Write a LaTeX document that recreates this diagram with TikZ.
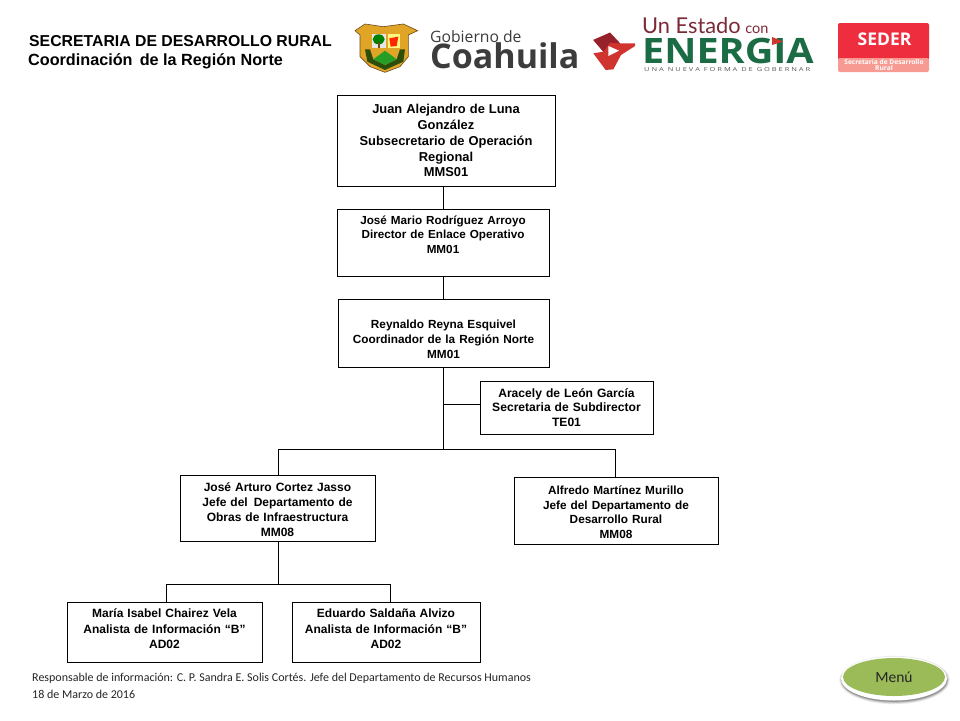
\documentclass[tikz,border=0pt]{standalone}
\usepackage{fontspec}
\setmainfont{Liberation Sans}
\newfontfamily\carl{Carlito}
\newfontfamily\lat{Open Sans}
\newfontfamily\lato{Lato}
\usetikzlibrary{shapes.geometric}
\definecolor{grn}{HTML}{9BBB59}
\definecolor{lgrn}{HTML}{1B6B45}
\definecolor{lred}{HTML}{D0342F}
\definecolor{dred}{HTML}{7A2A36}
\definecolor{sred}{HTML}{EE2D3F}
\definecolor{spink}{HTML}{F79A92}
\definecolor{dgray}{HTML}{3C3C3C}
\definecolor{gold}{HTML}{E0A526}
\definecolor{brn}{HTML}{6B4B1A}
\newcommand{\bx}[6]{\node[orgbox,minimum width=#4pt-#2pt,minimum height=#5pt-#3pt,text width=#4pt-#2pt-2pt] (#1) at ({(#2+#4)/2},{(#3+#5)/2}) {#6};}
\tikzset{
  orgbox/.style={draw=black,line width=.8pt,fill=white,inner sep=0pt,align=center,font=\bfseries\fontsize{12}{15}\selectfont},
  orgline/.style={draw=black,line width=.8pt},
  titletext/.style={inner sep=0pt,anchor=west,font=\bfseries\fontsize{15.8}{18}\selectfont},
  foot/.style={inner sep=0pt,anchor=west,font=\carl\fontsize{12}{14}\selectfont,text=black!85},
  logotext/.style={inner sep=0pt,anchor=base west},
}
\begin{document}
\begin{tikzpicture}[x=1pt,y=-1pt]
\useasboundingbox (0,0) rectangle (960,720);
\fill[white] (0,0) rectangle (960,720);
% titles
\node[titletext] (t1) at (29,41) {SECRETARIA DE DESARROLLO RURAL};
\node[titletext,font=\bfseries\fontsize{16.2}{18}\selectfont] (t2) at (28,61) {Coordinación\, de la Región Norte};
% shield
\begin{scope}[shift={(350,10)},x=.3333pt,y=-.3333pt]
\fill[gold,draw=brn,line width=.6pt] (15,62) -- (45,42) -- (100,50) -- (160,42) -- (203,62) -- (175,75) -- (175,140) -- (150,170) -- (105,187) -- (60,170) -- (30,140) -- (30,75) -- cycle;
\fill[brn!70!green!60!black] (45,118) -- (60,118) -- (70,148) -- (105,165) -- (140,148) -- (150,118) -- (165,118) -- (160,155) -- (105,180) -- (52,155) -- cycle;
\fill[black!10] (65,72) rectangle (107,115);
\fill[green!50!black] (86,88) ellipse [x radius=6pt,y radius=5pt];
\fill[brn] (83,95) rectangle (89,115);
\fill[yellow!50] (113,72) rectangle (150,115);
\fill[red!70!orange] (118,85) -- (145,80) -- (140,108) -- (122,110) -- cycle;
\fill[green!55!black!85] (70,148) -- (105,122) -- (140,148) -- (105,165) -- cycle;
\end{scope}
% coahuila
\node[logotext,text=dgray,font=\lat\fontsize{15.7}{18}\selectfont] (gob) at (430,42) {Gobierno de};
\node[logotext,text=dgray,font=\lat\bfseries\fontsize{34}{36}\selectfont] (coa) at (430,68) {Coahuila};
% star
\begin{scope}[shift={(585,10)},x=.3333pt,y=-.3333pt]
\fill[lred] (25,90) -- (75,68) -- (105,100) -- (150,100) -- (150,108) -- (108,135) -- (85,178) -- (62,180) -- (25,130) -- (55,125) -- cycle;
\fill[dred!80!red] (25,90) -- (75,68) -- (105,100) -- (75,98) -- (55,125) -- cycle;
\fill[white] (70,108) -- (102,122) -- (70,138) -- cycle;
\end{scope}
% energia
\node[logotext,text=dred,font=\lato\fontsize{21.8}{24}\selectfont] (ues) at (642,33) {Un Estado\hspace{-1pt} {\fontsize{14.5}{16}\selectfont con}};
\node[logotext,text=lgrn,font=\lat\bfseries\fontsize{35}{36}\selectfont] (ene) at (642,63) {\scalebox{1.13}[1]{ENERGIA}};
\fill[lred] (772,37) -- (783,41.5) -- (772,45) -- cycle;
\node[logotext,text=black!65,font=\lat\fontsize{5.5}{6}\selectfont] (una) at (644,71) {\scalebox{1.36}[1]{U N A\ \ N U E V A\ \ F O R M A\ \ D E\ \ G O B E R N A R}};
% seder
\fill[sred,rounded corners=2pt] (838,23) rectangle (929,60);
\fill[spink,rounded corners=2pt] (838,58) rectangle (929,72);
\node[inner sep=0pt,text=white,font=\lat\bfseries\fontsize{17.5}{18}\selectfont] (sed) at (884.5,39.5) {SEDER};
\node[inner sep=0pt,text=white,align=center,font=\lat\bfseries\fontsize{6.6}{6}\selectfont] (sec) at (884,65) {Secretaria de Desarrollo\\Rural};
% boxes
\coordinate (busA) at (443,0);
\coordinate (busL) at (278,0);
\coordinate (busR) at (615,0);
\coordinate (busM) at (166,0);
\coordinate (busE) at (390,0);
\coordinate (y1) at (0,404);
\coordinate (y2) at (0,449);
\coordinate (y3) at (0,584);
\bx{a}{337}{95}{555}{186}{\fontsize{12.9}{16.2}\selectfont Juan Alejandro de Luna\\González\\Subsecretario de Operación\\Regional\\MMS01}
\bx{b}{337}{209}{549}{276}{\fontsize{11.7}{14.5}\selectfont José Mario Rodríguez Arroyo\\Director de Enlace Operativo\\MM01\rule[-16pt]{0pt}{0pt}}
\bx{c}{338}{299}{549}{367}{\fontsize{11.8}{15}\selectfont\rule{0pt}{21pt}Reynaldo Reyna Esquivel\\Coordinador de la Región Norte\\MM01}
\bx{d}{480}{381}{653}{434}{\fontsize{12.1}{14.2}\selectfont Aracely de León García\\Secretaria de Subdirector\\TE01}
\bx{e}{180}{475}{375}{541}{\fontsize{12}{15}\selectfont\rule{0pt}{12pt}José Arturo Cortez Jasso\\Jefe del\, Departamento de\\Obras de Infraestructura\\MM08}
\bx{f}{514}{477}{718}{544}{\fontsize{11.8}{14.7}\selectfont\rule{0pt}{12.4pt}Alfredo Martínez Murillo\\Jefe del Departamento de\\Desarrollo Rural\\MM08}
\bx{g}{67}{602}{262}{662}{\fontsize{12}{15.5}\selectfont María Isabel Chairez Vela\\Analista de Información “B”\\AD02\rule[-7pt]{0pt}{0pt}}
\bx{h}{292}{602}{480}{662}{\fontsize{12}{15.5}\selectfont Eduardo Saldaña Alvizo\\Analista de Información “B”\\AD02\rule[-7pt]{0pt}{0pt}}
% connectors
\draw[orgline] (a.south -| busA) -- (b.north -| busA);
\draw[orgline] (b.south -| busA) -- (c.north -| busA);
\draw[orgline] (c.south -| busA) -- (busA |- y2);
\draw[orgline] (busA |- y1) -- (d.west |- y1);
\draw[orgline] (e.north -| busL) -- (busL |- y2) -- (busR |- y2) -- (f.north -| busR);
\draw[orgline] (e.south -| busL) -- (busL |- y3);
\draw[orgline] (g.north -| busM) -- (busM |- y3) -- (busE |- y3) -- (h.north -| busE);
% footer
\node[foot] (r1) at (32,678) {Responsable de información: C. P. Sandra E. Solis Cortés. Jefe del Departamento de Recursos Humanos};
\node[foot] (r2) at (32,694) {18 de Marzo de 2016};
% menu
\foreach \o/\c in {4/8,3/16,2/28,1/42}{
  \fill[black!\c] (894.5,680) ellipse [x radius=52+\o*.8,y radius=21+\o*.8];
}
\fill[white] (894,678.5) ellipse [x radius=53,y radius=22];
\node[ellipse,fill=grn,minimum width=102pt,minimum height=38pt,inner sep=0pt,text=black!85,font=\carl\fontsize{15.5}{18}\selectfont] (menu) at (894,677) {Menú};
\end{tikzpicture}
\end{document}
